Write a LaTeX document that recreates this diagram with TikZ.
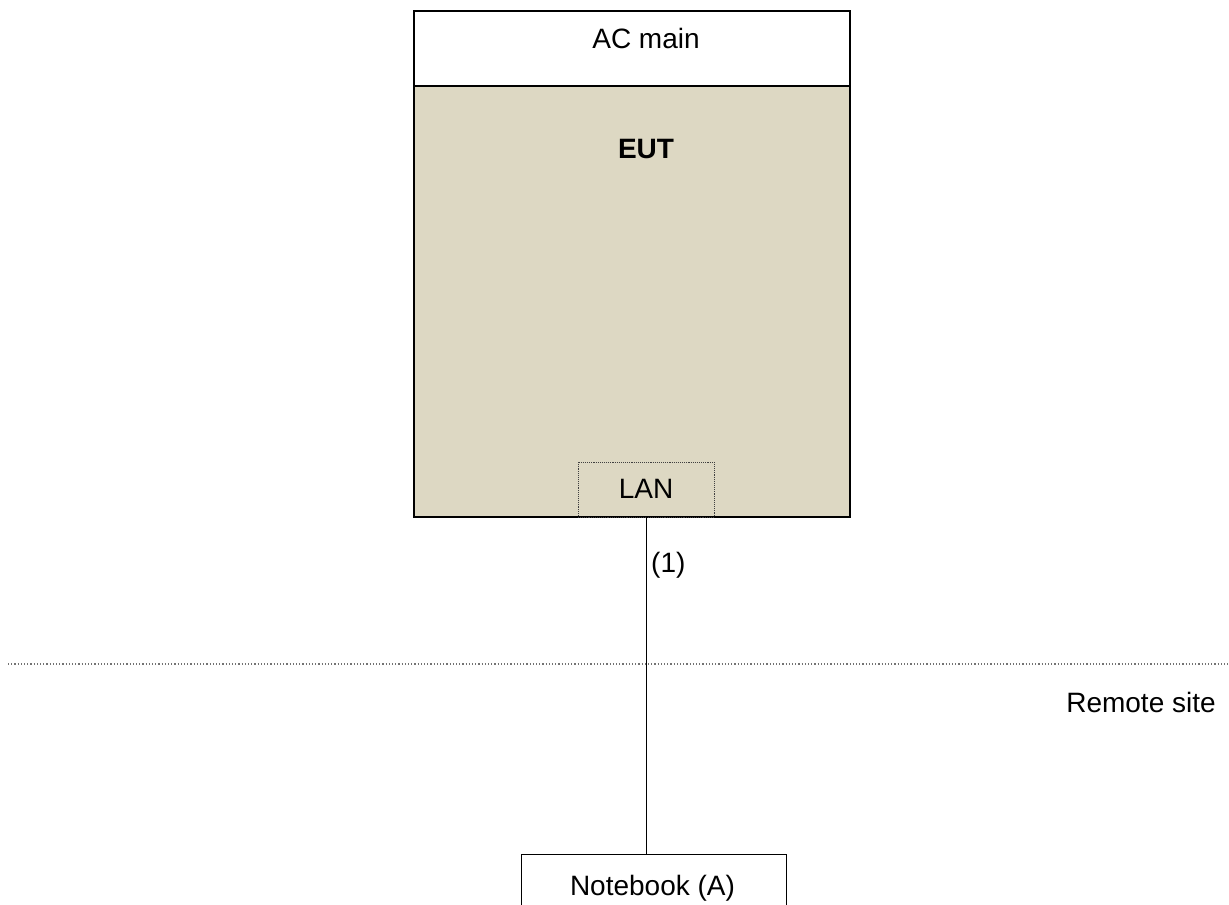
\documentclass[tikz,border=0pt]{standalone}
\usepackage{fontspec}
\setmainfont{Liberation Sans}
\definecolor{eutfill}{HTML}{DDD8C3}
\begin{document}
\begin{tikzpicture}[x=1pt,y=-1pt,
  lbl/.style={font=\fontsize{28}{32}\selectfont, inner sep=0pt, anchor=base},
  boxline/.style={draw=black, line width=1.2pt}]
\useasboundingbox (0,0) rectangle (1229,905);
% EUT box
\fill[eutfill] (414,86) rectangle (850,517);
\draw[boxline] (414,11) rectangle (850,517);
\draw[boxline] (414,86) -- (850,86);
\node[lbl] (ac) at (646,48) {AC main};
\node[lbl, font=\fontsize{28}{32}\selectfont\bfseries] (eut) at (646,158) {EUT};
% LAN port
\node[draw=black!75, densely dotted, line width=0.9pt, minimum width=136pt, minimum height=55pt, inner sep=0pt] (lan) at (646,489.5) {};
\node[lbl] at (646,498) {LAN};
\coordinate (lanb) at (646,517);
% Notebook
\node[draw=black, line width=1pt, minimum width=265pt, minimum height=80pt, inner sep=0pt, anchor=north] (nb) at (653.5,854) {};
\node[lbl] at (652.5,895) {Notebook (A)};
\draw[line width=1pt] (lanb) -- (lanb |- nb.north);
\node[lbl, anchor=base west] (one) at (651,572) {(1)};
% site separator
\coordinate (sepL) at (8,664);
\coordinate (sepR) at (1229,664);
\draw[black!55, dotted, line width=1.2pt] (sepL) -- (sepR);
\node[lbl] (remote) at (1141,712) {Remote site};
\end{tikzpicture}
\end{document}
